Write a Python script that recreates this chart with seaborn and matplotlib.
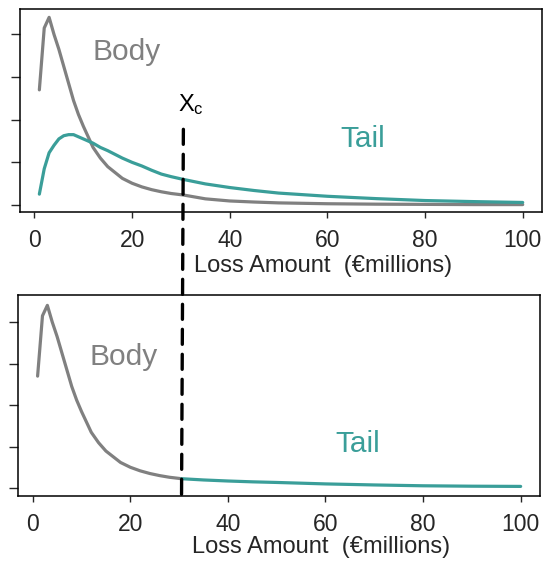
import numpy as np
import pandas as pd
import seaborn as sns
import matplotlib.pyplot as plt
from matplotlib.patches import ConnectionPatch

# loss amounts (EUR millions) where the curves were read
loss = [1, 2, 3, 4, 5, 6, 7, 8, 9, 10, 11, 12, 13.5, 15, 18, 20, 22, 24, 26,
        28, 30.5, 35, 40, 45, 50, 60, 70, 80, 90, 100]
# body density (upper and lower panel share it up to the threshold)
body = [0.054, 0.083, 0.088, 0.080, 0.073, 0.065, 0.057, 0.049, 0.0425,
        0.037, 0.032, 0.027, 0.022, 0.018, 0.0125, 0.0102, 0.0085, 0.0072,
        0.0062, 0.0054, 0.0047, 0.0029, 0.0019, 0.0014, 0.0010, 0.0006,
        0.0004, 0.0003, 0.0002, 0.0002]
# tail density, upper panel
tail = [0.0051, 0.017, 0.0245, 0.028, 0.031, 0.0325, 0.033, 0.033, 0.032,
        0.031, 0.030, 0.029, 0.027, 0.0255, 0.022, 0.020, 0.0183, 0.0163,
        0.0145, 0.0133, 0.012, 0.0099, 0.0082, 0.0068, 0.0056, 0.0041,
        0.0030, 0.0021, 0.0016, 0.0012]
# spliced tail, lower panel (starts at the threshold)
tail_spliced = [0.0047, 0.0041, 0.0036, 0.0032, 0.0029, 0.0022, 0.0017,
                0.0013, 0.0011, 0.0010]
x_c = 30.5
x_ticks = [0, 20, 40, 60, 80, 100]
y_ticks = [0, 0.02, 0.04, 0.06, 0.08]

GREY = '#808080'
TEAL = '#3a9e99'

sns.set_style('white')
plt.rcParams['font.family'] = ['Liberation Sans', 'DejaVu Sans']
plt.rcParams['mathtext.fontset'] = 'custom'
plt.rcParams['mathtext.rm'] = 'Liberation Sans'

df = pd.DataFrame({'loss': loss, 'body': body, 'tail': tail})
n_c = loss.index(x_c)
df_body = df.iloc[:n_c + 1]
df_tail = pd.DataFrame({'loss': loss[n_c:], 'dens': tail_spliced})

fig = plt.figure(figsize=(5.44, 5.61), dpi=100)
ax1 = fig.add_axes([0.0368, 0.622, 0.9596, 0.3619])
ax2 = fig.add_axes([0.0336, 0.1159, 0.959, 0.3583])

sns.lineplot(data=df, x='loss', y='body', ax=ax1, color=GREY, lw=2.3)
sns.lineplot(data=df, x='loss', y='tail', ax=ax1, color=TEAL, lw=2.3)
sns.lineplot(data=df_body, x='loss', y='body', ax=ax2, color=GREY, lw=2.3)
sns.lineplot(data=df_tail, x='loss', y='dens', ax=ax2, color=TEAL, lw=2.3)

ax1.set_ylim(-0.0033, 0.0919)
ax2.set_ylim(-0.0036, 0.0930)

for ax in (ax1, ax2):
    ax.set_xlim(-2.96, 103.96)
    ax.set_xticks(x_ticks)
    ax.set_yticks(y_ticks)
    ax.set_yticklabels([])
    ax.set_ylabel('')
    ax.tick_params(axis='x', length=4.5, width=1, pad=8, labelsize=16.5,
                   direction='out', bottom=True)
    ax.tick_params(axis='y', length=6.5, width=1, direction='out', left=True)
    for sp in ax.spines.values():
        sp.set_color('black')
        sp.set_linewidth(1.1)
    ax.set_xlabel('Loss Amount  (\u20acmillions)', fontsize=17)

ax1.xaxis.set_label_coords(0.58, -0.21)
ax2.xaxis.set_label_coords(0.58, -0.20)

ax1.text(18.8, 0.0719, 'Body', color=GREY, fontsize=21.5, ha='center', va='center')
ax1.text(67.2, 0.0311, 'Tail', color=TEAL, fontsize=21.5, ha='center', va='center')
ax1.text(32, 0.047, r'$\mathregular{X_c}$', color='black', fontsize=17,
         ha='center', va='center')
ax2.text(18.7, 0.0632, 'Body', color=GREY, fontsize=21.5, ha='center', va='center')
ax2.text(66.6, 0.0214, 'Tail', color=TEAL, fontsize=21.5, ha='center', va='center')

# threshold line runs through both panels
con = ConnectionPatch(xyA=(x_c, 0.0355), coordsA='data', axesA=ax1,
                      xyB=(x_c, ax2.get_ylim()[0]), coordsB='data', axesB=ax2,
                      color='black', lw=2.4, linestyle=(0, (4.5, 3)))
fig.add_artist(con)

fig.savefig('out.png', dpi=100)
